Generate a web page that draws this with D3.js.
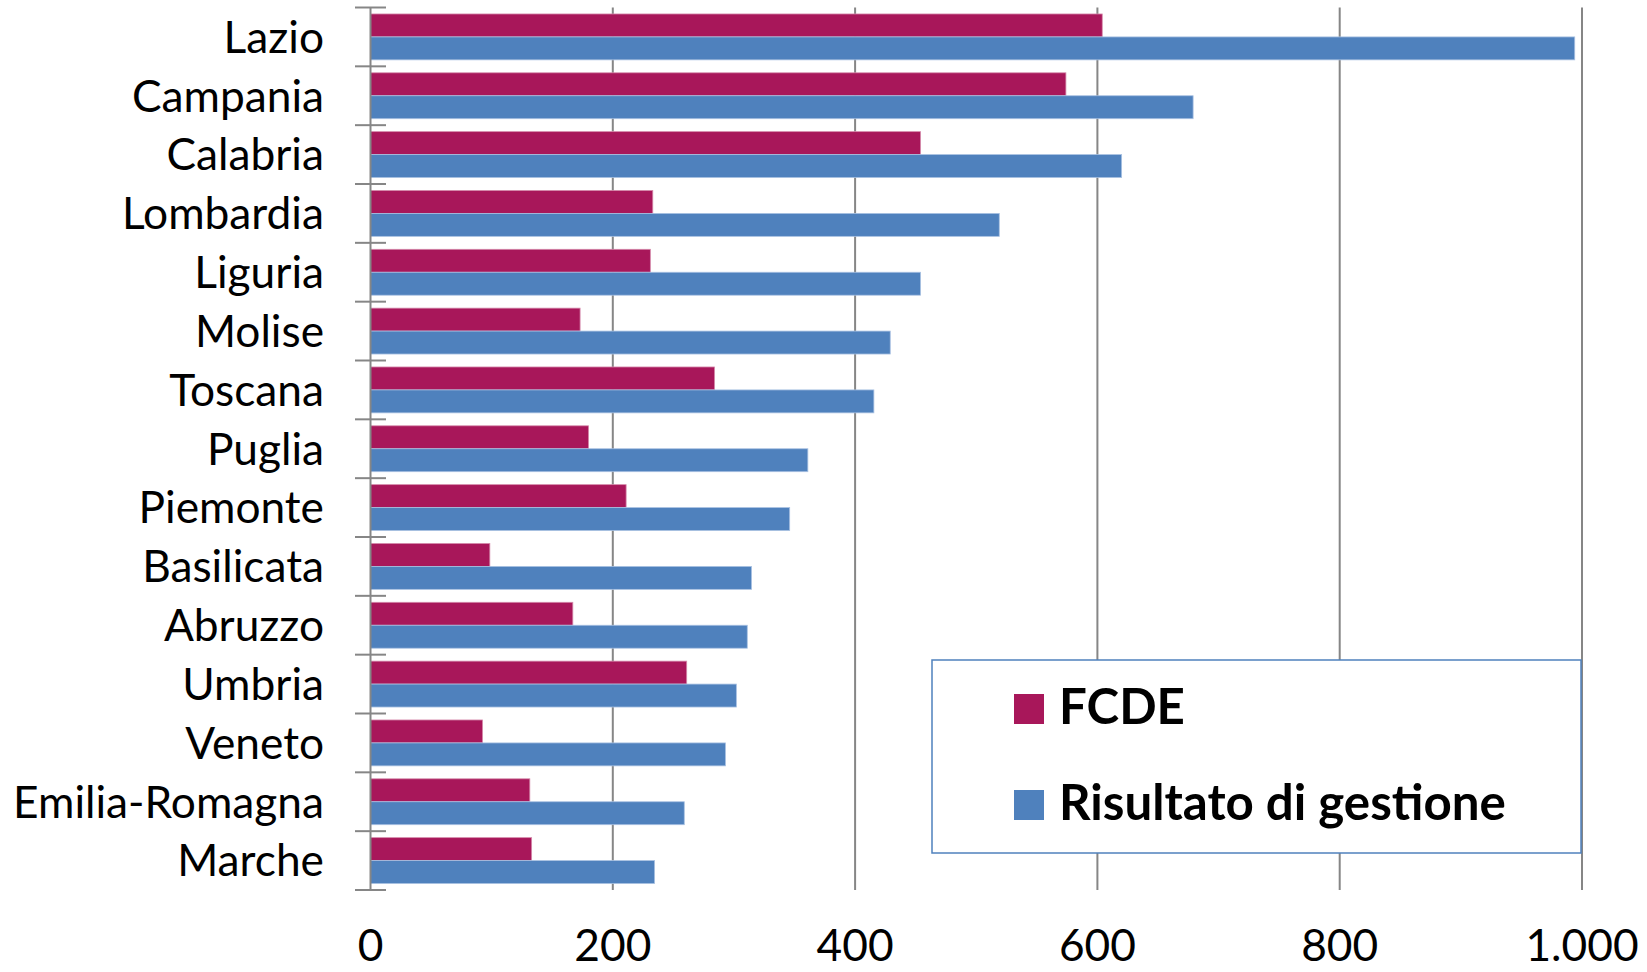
<!DOCTYPE html>
<html>
<head>
<meta charset="utf-8">
<script src="https://cdn.jsdelivr.net/npm/d3@7"></script>
<style>
  html, body { margin: 0; padding: 0; background: #fff; }
  svg { display: block; }
</style>
</head>
<body>
<svg id="chart" width="1647" height="972"></svg>
<script>
const categories = ["Lazio","Campania","Calabria","Lombardia","Liguria","Molise","Toscana","Puglia","Piemonte","Basilicata","Abruzzo","Umbria","Veneto","Emilia-Romagna","Marche"];
const fcde =      [604, 574, 454, 233, 231, 173, 284, 180, 211,  98.5, 167, 261,  92.5, 131.5, 133];
const risultato = [994, 679, 620, 519, 454, 429, 415.5, 361, 346, 314.5, 311, 302, 293, 259, 234.5];
const seriesNames = ["FCDE", "Risultato di gestione"];
const seriesColors = ["#A8175A", "#4F81BD"];
const seriesStrokes = ["#D58AAB", "#A9C1E2"];
const xTicks = [0, 200, 400, 600, 800, 1000];

const svg = d3.select("#chart");
const fontFamily = "Lato, 'Open Sans', sans-serif";

const x = d3.scaleLinear().domain([0, 1000]).range([370.5, 1582]);
const y = d3.scaleBand().domain(categories).range([7.5, 890]).paddingInner(0.22).paddingOuter(0.11);
const ySub = d3.scaleBand().domain([0, 1]).range([0, y.bandwidth()]);
const step = y.step();

// fit font size for labels
function fitSize(text, targetWidth, weight) {
  const t = svg.append("text").attr("font-family", fontFamily).attr("font-size", 100)
    .attr("font-weight", weight).text(text);
  const w = t.node().getComputedTextLength();
  t.remove();
  return 100 * targetWidth / w;
}
const labelSize = fitSize("Emilia-Romagna", 311, "normal");
const legendSize = fitSize("Risultato di gestione", 447, "bold");
const capRatio = 0.717;

// gridlines
svg.append("g").selectAll("line").data(xTicks.slice(1)).join("line")
  .attr("x1", d => x(d)).attr("x2", d => x(d))
  .attr("y1", 7.5).attr("y2", 890)
  .attr("stroke", "#868686").attr("stroke-width", 2);

// bars
const groups = svg.append("g").selectAll("g").data(categories).join("g")
  .attr("transform", d => `translate(0,${y(d)})`);
[fcde, risultato].forEach((vals, si) => {
  groups.append("rect")
    .attr("x", x(0))
    .attr("y", ySub(si))
    .attr("width", (d, i) => x(vals[i]) - x(0))
    .attr("height", ySub.bandwidth())
    .attr("fill", seriesColors[si])
    .attr("stroke", seriesStrokes[si])
    .attr("stroke-width", 0.8);
});

// y axis
const yAxis = svg.append("g");
yAxis.append("line").attr("x1", x(0)).attr("x2", x(0)).attr("y1", 7.5).attr("y2", 890)
  .attr("stroke", "#868686").attr("stroke-width", 2);
const bounds = d3.range(categories.length + 1).map(i => 7.5 + i * step);
yAxis.selectAll("line.tick").data(bounds).join("line").attr("class", "tick")
  .attr("x1", 355).attr("x2", 386).attr("y1", d => d).attr("y2", d => d)
  .attr("stroke", "#868686").attr("stroke-width", 2);
yAxis.selectAll("text").data(categories).join("text")
  .attr("x", 324).attr("y", d => y(d) + y.bandwidth() / 2 + labelSize * capRatio / 2)
  .attr("text-anchor", "end").attr("font-family", fontFamily).attr("font-size", labelSize)
  .attr("fill", "#000").text(d => d);

// x axis labels
const fmt = d3.formatLocale({decimal: ",", thousands: ".", grouping: [3], currency: ["", "€"]}).format(",");
svg.append("g").selectAll("text").data(xTicks).join("text")
  .attr("x", d => x(d)).attr("y", 961)
  .attr("text-anchor", "middle").attr("font-family", fontFamily).attr("font-size", labelSize)
  .attr("fill", "#000").text(d => fmt(d));

// legend
const lg = svg.append("g");
lg.append("rect").attr("x", 932).attr("y", 660).attr("width", 649).attr("height", 193)
  .attr("fill", "#fff").attr("stroke", "#4F81BD").attr("stroke-width", 1.5);
const legendY = [724, 820];
seriesNames.forEach((name, i) => {
  lg.append("rect").attr("x", 1014).attr("y", legendY[i] - 30).attr("width", 30).attr("height", 30)
    .attr("fill", seriesColors[i]);
  lg.append("text").attr("x", 1059).attr("y", legendY[i])
    .attr("font-family", fontFamily).attr("font-weight", "bold").attr("font-size", legendSize)
    .attr("fill", "#000").text(name);
});
</script>
</body>
</html>
